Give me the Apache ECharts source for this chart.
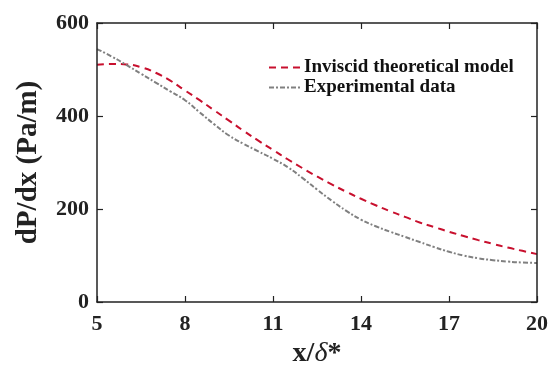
<!DOCTYPE html>
<html>
<head>
<meta charset="utf-8">
<script src="https://cdn.jsdelivr.net/npm/echarts@6/dist/echarts.min.js"></script>
<style>html,body{margin:0;padding:0;background:#fff}#c{width:550px;height:367px}</style>
</head>
<body>
<div id="c"></div>
<script>
const xValues = [5,5.5,6,6.5,7,7.5,8,8.5,9,9.5,10,10.5,11,11.5,12,12.5,13,13.5,14,14.5,15,15.5,16,16.5,17,17.5,18,18.5,19,19.5,20];
const inviscid = [510,512,511,505,493,476,455,434,412,390,368,347,327,307,288,270,253,237,222,208,195,183,171,161,151,142,133,125,117,110,103];
const experimental = [544,528,510,491,472,453,434,408,382,358,340,324,308,290,267,242,218,196,177,163,151,140,129,118,108,100,94,90,87,85,84];
const xTicks = [5,8,11,14,17,20];
const yTicks = [0,200,400,600];
const seriesNames = ['Inviscid theoretical model','Experimental data'];

const font = 'Liberation Serif';
const chart = echarts.init(document.getElementById('c'), null, {renderer:'canvas'});
function axisLine(){ return {show:true, onZero:false, lineStyle:{color:'#222', width:1.5}}; }
function tick(){ return {show:true, inside:true, length:6, lineStyle:{color:'#222', width:1.2}}; }
chart.setOption({
  animation:false,
  backgroundColor:'#fff',
  grid:{left:97, right:13, top:23, bottom:65, outerBoundsMode:'none', containLabel:false},
  legend:{
    orient:'vertical', left:263, top:53, itemWidth:32, itemHeight:12, itemGap:1,
    itemStyle:{opacity:0},
    textStyle:{fontFamily:font, fontWeight:'bold', fontSize:19, color:'#111', padding:[0,0,0,-2]},
    data:seriesNames
  },
  xAxis:[{
    type:'value', min:xTicks[0], max:xTicks[xTicks.length-1], interval:3, z:10,
    axisLine:axisLine(), axisTick:tick(), splitLine:{show:false},
    axisLabel:{fontFamily:font, fontWeight:'bold', fontSize:22, color:'#222', margin:11},
    name:'{a|x/}{b|δ}{a|*}', nameLocation:'middle', nameGap:33,
    nameTextStyle:{rich:{a:{fontFamily:font, fontWeight:'bold', fontSize:28, color:'#222'}, b:{fontFamily:font, fontStyle:'italic', fontSize:28, color:'#222'}}}
  },{
    type:'value', position:'top', min:xTicks[0], max:xTicks[xTicks.length-1], interval:3, z:10,
    axisLine:axisLine(), axisTick:tick(), axisLabel:{show:false}, splitLine:{show:false}
  }],
  yAxis:[{
    type:'value', min:yTicks[0], max:yTicks[yTicks.length-1], interval:200, z:10,
    axisLine:axisLine(), axisTick:tick(), splitLine:{show:false},
    axisLabel:{fontFamily:font, fontWeight:'bold', fontSize:22, color:'#222', margin:8},
    name:'dP/dx (Pa/m)', nameLocation:'middle', nameGap:54, nameRotate:90,
    nameTextStyle:{fontFamily:font, fontWeight:'bold', fontSize:29, color:'#222'}
  },{
    type:'value', position:'right', min:yTicks[0], max:yTicks[yTicks.length-1], interval:200, z:10,
    axisLine:axisLine(), axisTick:tick(), axisLabel:{show:false}, splitLine:{show:false}
  }],
  series:[{
    name:seriesNames[0], type:'line', smooth:true, symbol:'none',
    data:xValues.map((x,i)=>[x,inviscid[i]]),
    lineStyle:{color:'#c8102e', width:2, type:[7,5]}, itemStyle:{color:'#c8102e'}
  },{
    name:seriesNames[1], type:'line', smooth:true, symbol:'none',
    data:xValues.map((x,i)=>[x,experimental[i]]),
    lineStyle:{color:'#808080', width:2, type:[5,2,2,2]}, itemStyle:{color:'#808080'}
  },{
    name:'frame', type:'line', xAxisIndex:1, yAxisIndex:1, symbol:'none', silent:true, z:0,
    data:xValues.map((x,i)=>[x,experimental[i]]),
    lineStyle:{opacity:0, width:0}
  }]
});
</script>
</body>
</html>
